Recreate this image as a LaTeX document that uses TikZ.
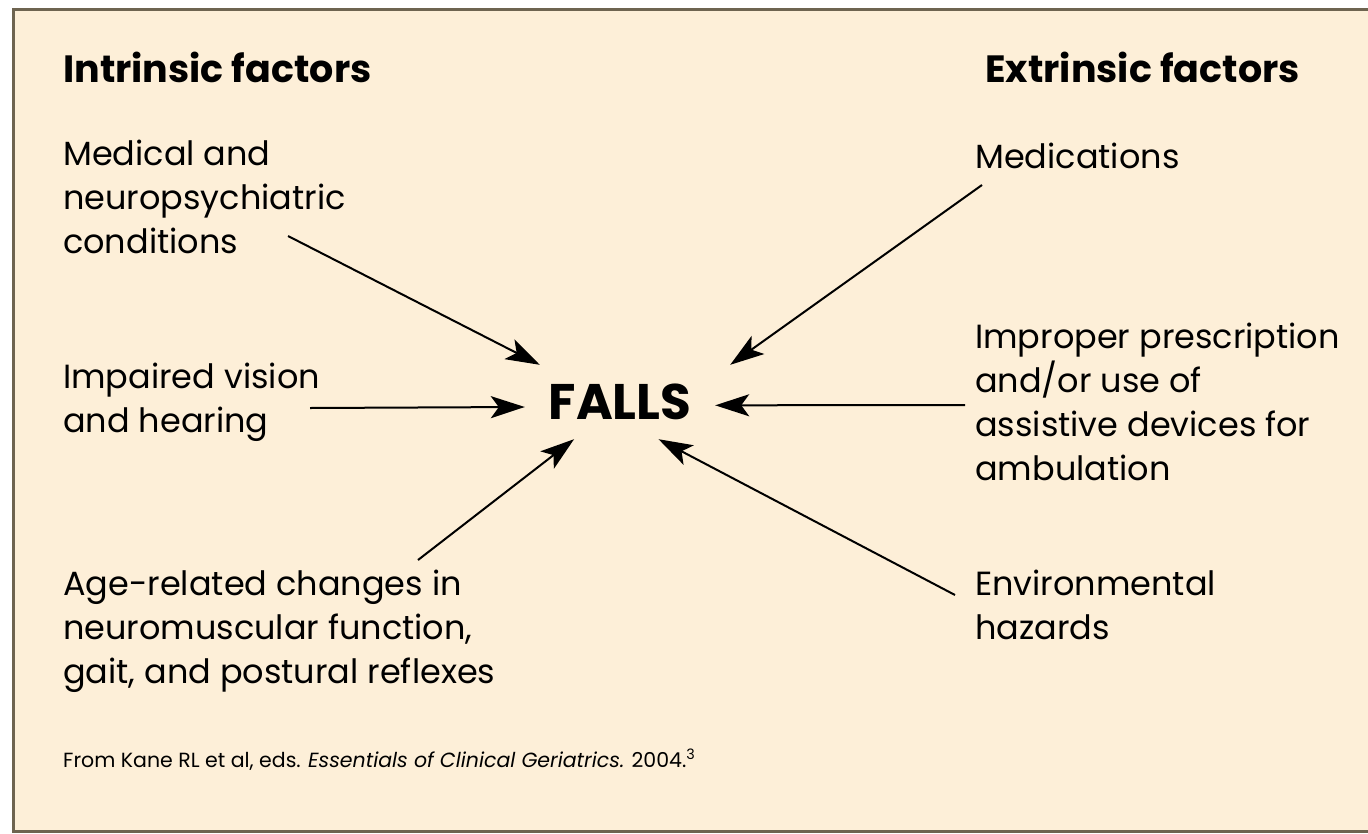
\documentclass[tikz,border=0pt]{standalone}
\usepackage{fontspec}
\setmainfont{Poppins}
\usetikzlibrary{arrows.meta}
\definecolor{paper}{HTML}{FDEFD8}
\definecolor{frameline}{HTML}{6E6450}

\begin{document}
\begin{tikzpicture}[
  x=1pt, y=-1pt,
  factor/.style={
    anchor=base west,
    align=left,
    inner sep=0pt,
    font=\fontsize{33.5}{44}\selectfont
  },
  heading/.style={
    inner sep=0pt,
    font=\bfseries\fontsize{38}{40}\selectfont
  },
  cause/.style={
    draw=black,
    line width=2pt,
    -{Stealth[length=34pt,width=22pt,inset=8pt]}
  },
]
\useasboundingbox (0,0) rectangle (1368,833);
\fill[white] (0,0) rectangle (1368,833);
\fill[paper] (13,9) rectangle (1368,831);
\draw[frameline, line width=3pt] (1368,9) -- (13,9) -- (13,831) -- (1368,831);

% headings
\node[heading, anchor=base west] (intr) at (63,82) {Intrinsic factors};
\node[heading, anchor=base east] (extr) at (1300,82) {Extrinsic factors};

% centre
\node[inner sep=0pt, minimum width=190pt, minimum height=74pt,
      font=\bfseries\fontsize{50}{52}\selectfont] (falls) at (620,402) {FALLS};

% intrinsic (base = last line)
\node[factor] (med) at (63,253) {Medical and\\neuropsychiatric\\conditions};
\node[factor] (vis) at (63,432) {Impaired vision\\and hearing};
\node[factor] (age) at (63,683) {Age-related changes in\\neuromuscular function,\\gait, and postural reflexes};

% extrinsic
\node[factor] (drug) at (975,168) {Medications};
\node[factor] (aid) at (975,480) {Improper prescription\\and/or use of\\assistive devices for\\ambulation};
\node[factor] (env) at (975,639) {Environmental\\hazards};

\coordinate (med-out) at (288,236);
\coordinate (vis-out) at (310,408);
\coordinate (age-out) at (418,560);
\coordinate (drug-out) at (982,185);
\coordinate (aid-out) at (965,405);
\coordinate (env-out) at (955,595);

\draw[cause] (med-out) -- ([xshift=15pt]falls.north west);
\draw[cause] (vis-out) -- (falls.183);
\draw[cause] (age-out) -- (falls.219);
\draw[cause] (drug-out) -- ([xshift=15pt]falls.north east);
\draw[cause] (aid-out) -- (falls.358);
\draw[cause] (env-out) -- (falls.316);

\node[anchor=base west, inner sep=0pt, font=\fontsize{20.5}{24}\selectfont] (src) at (63,767)
  {From Kane RL et al, eds. \textit{Essentials of Clinical Geriatrics.} 2004.\textsuperscript{3}};
\end{tikzpicture}
\end{document}
